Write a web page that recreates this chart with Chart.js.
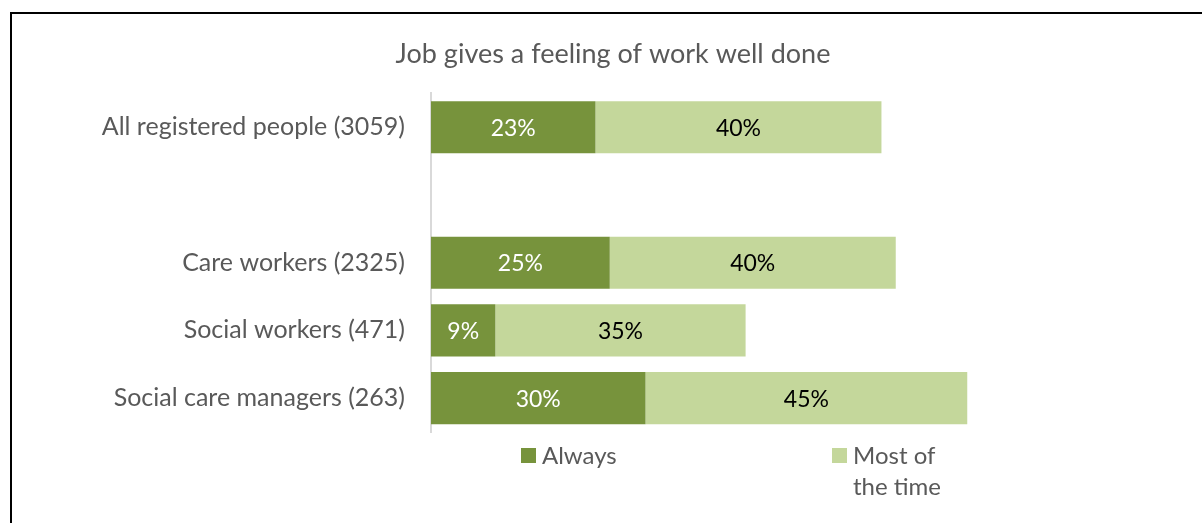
<!DOCTYPE html>
<html>
<head>
<meta charset="utf-8">
<title>Job gives a feeling of work well done</title>
<script src="https://cdn.jsdelivr.net/npm/chart.js@4.4.1/dist/chart.umd.min.js"></script>
<style>
  html, body { margin: 0; padding: 0; background: #fff; }
  .frame {
    position: absolute; left: 10px; top: 12px;
    width: 1300px; height: 600px;
    border-left: 2px solid #000; border-top: 2px solid #000;
  }
  .wrap { position: absolute; left: 0; top: 0; width: 1202px; height: 523px; }
</style>
</head>
<body>
<div class="frame"></div>
<div class="wrap"><canvas id="job_chart" width="1202" height="523"></canvas></div>
<script>
// CHART DATA
const categories = [
  "All registered people (3059)",
  "",
  "Care workers (2325)",
  "Social workers (471)",
  "Social care managers (263)",
];
const always_values = [23, null, 25, 9, 30];
const most_values = [40, null, 40, 35, 45];
const series_names = ["Always", ["Most of", "the time"]];

const DARK_GREEN = "#77933C";
const LIGHT_GREEN = "#C4D79B";
const FONT = "Lato, sans-serif";

// value labels centred inside each bar segment
const barLabels = {
  id: "barLabels",
  afterDatasetsDraw(chart) {
    const ctx = chart.ctx;
    ctx.save();
    ctx.font = "23px " + FONT;
    ctx.textAlign = "center";
    ctx.textBaseline = "middle";
    chart.data.datasets.forEach((ds, i) => {
      const meta = chart.getDatasetMeta(i);
      meta.data.forEach((bar, j) => {
        const v = ds.data[j];
        if (v == null) return;
        ctx.fillStyle = i === 0 ? "#ffffff" : "#000000";
        ctx.fillText(v + "%", (bar.x + bar.base) / 2, bar.y + 1);
      });
    });
    ctx.restore();
  },
};

// legend under the plot, second entry wraps onto two lines
const bottomLegend = {
  id: "bottomLegend",
  afterDraw(chart) {
    const ctx = chart.ctx;
    const area = chart.chartArea;
    const offsets = [90, 401];
    const colors = [DARK_GREEN, LIGHT_GREEN];
    ctx.save();
    ctx.font = "24px " + FONT;
    ctx.textBaseline = "middle";
    series_names.forEach((name, i) => {
      const x = area.left + offsets[i];
      const y = area.bottom + 24;
      ctx.fillStyle = colors[i];
      ctx.fillRect(x, y - 8, 15, 15);
      ctx.fillStyle = "#595959";
      const lines = Array.isArray(name) ? name : [name];
      lines.forEach((line, k) => {
        ctx.fillText(line, x + 21, y + k * 31);
      });
    });
    ctx.restore();
  },
};

const ctx = document.getElementById("job_chart").getContext("2d");

new Chart(ctx, {
  type: "bar",
  data: {
    labels: categories,
    datasets: [
      {
        label: "Always",
        data: always_values,
        backgroundColor: DARK_GREEN,
        barPercentage: 0.77,
        categoryPercentage: 1.0,
      },
      {
        label: "Most of the time",
        data: most_values,
        backgroundColor: LIGHT_GREEN,
        barPercentage: 0.77,
        categoryPercentage: 1.0,
      },
    ],
  },
  options: {
    indexAxis: "y",
    responsive: false,
    animation: false,
    layout: {
      padding: { left: 80, right: 56, top: 38, bottom: 91 },
    },
    scales: {
      x: {
        stacked: true,
        min: 0,
        max: 100,
        display: false,
      },
      y: {
        stacked: true,
        grid: { display: false },
        border: { display: true, color: "#D9D9D9", width: 2 },
        ticks: {
          color: "#595959",
          font: { family: FONT, size: 25 },
          padding: 18,
        },
        afterFit(scale) {
          scale.width = 351;
        },
      },
    },
    plugins: {
      legend: { display: false },
      tooltip: { enabled: false },
      title: {
        display: true,
        text: "Job gives a feeling of work well done",
        color: "#595959",
        font: { family: FONT, size: 27, weight: "normal" },
        padding: { top: 0, bottom: 23 },
      },
    },
  },
  plugins: [barLabels, bottomLegend],
});
</script>
</body>
</html>
